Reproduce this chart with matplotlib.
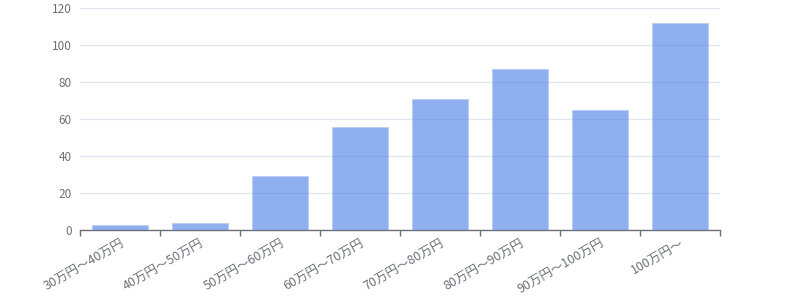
import matplotlib
matplotlib.use('Agg')
import matplotlib.pyplot as plt
import numpy as np

plt.rcParams['font.family'] = ['Noto Sans CJK JP', 'DejaVu Sans']

categories = ['30万円～40万円', '40万円～50万円', '50万円～60万円', '60万円～70万円',
              '70万円～80万円', '80万円～90万円', '90万円～100万円', '100万円～']
counts = [3, 4, 29, 56, 71, 87, 65, 112]
yticks = [0, 20, 40, 60, 80, 100, 120]

fig = plt.figure(figsize=(8, 3), dpi=100)
ax = fig.add_axes([0.1, 0.233, 0.8, 0.74])

x = np.arange(len(categories))
ax.bar(x, counts, width=0.69, color='#5384E5', alpha=0.65,
       edgecolor='#B5CBF5', linewidth=0.8, zorder=3)

ax.set_xlim(-0.5, len(categories) - 0.5)
ax.set_ylim(0, 120)
ax.set_yticks(yticks)
ax.grid(axis='y', color='#E0E6F1', linewidth=0.9, zorder=0)
ax.set_axisbelow(True)

# category ticks sit on the boundaries, labels in the middle
ax.set_xticks(np.arange(len(categories) + 1) - 0.5)
ax.set_xticklabels([])
ax.set_xticks(x, minor=True)
ax.set_xticklabels(categories, minor=True, rotation=30, ha='right',
                   rotation_mode='anchor', fontsize=9, color='#6E7079')
ax.tick_params(axis='x', which='major', length=4, color='#6E7079', width=1)
ax.tick_params(axis='x', which='minor', length=0, pad=5)
ax.tick_params(axis='y', length=0, labelsize=8.5, labelcolor='#6E7079', pad=6)

for s in ['top', 'right', 'left']:
    ax.spines[s].set_visible(False)
ax.spines['bottom'].set_color('#6E7079')
ax.spines['bottom'].set_linewidth(1)

fig.savefig('out.png', dpi=100)
